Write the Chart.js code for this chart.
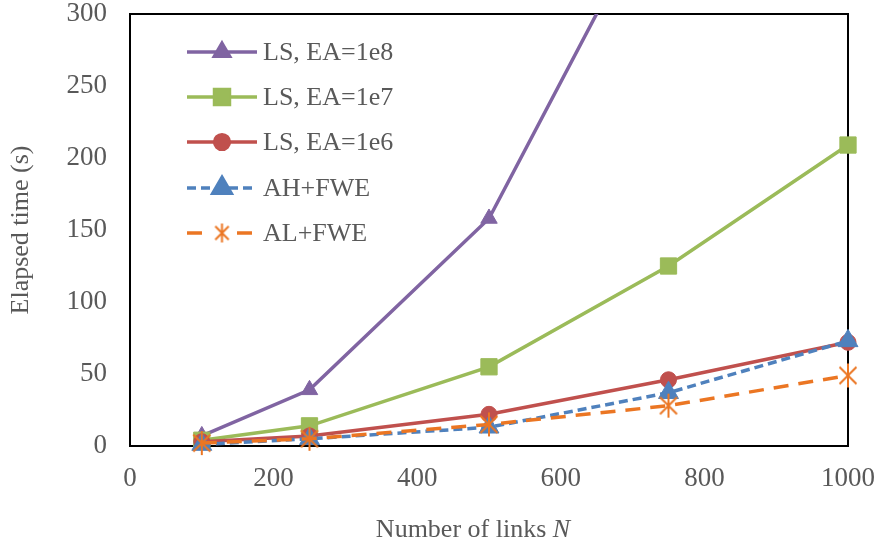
<!DOCTYPE html>
<html>
<head>
<meta charset="utf-8">
<script src="https://cdn.jsdelivr.net/npm/chart.js@4/dist/chart.umd.min.js"></script>
<style>
  html, body { margin: 0; padding: 0; background: #fff; }
  #wrap { width: 877px; height: 547px; position: relative; }
</style>
</head>
<body>
<div id="wrap"><canvas id="chart"></canvas></div>
<script>
// data
const linkCounts = [100, 250, 500, 750, 1000];
const lsEa1e8 = [7, 39, 158, 395, null];
const lsEa1e7 = [4, 14, 55, 125, 209];
const lsEa1e6 = [3, 7, 22, 46, 72];
const ahFwe = [1, 5, 13, 37, 73];
const alFwe = [2, 5, 15, 28, 49];

const seriesNames = ['LS, EA=1e8', 'LS, EA=1e7', 'LS, EA=1e6', 'AH+FWE', 'AL+FWE'];
const yTicks = [0, 50, 100, 150, 200, 250, 300];
const xTicks = [0, 200, 400, 600, 800, 1000];

const FONT = '"Liberation Serif", "Times New Roman", serif';
const GREY = '#595959';
const ORANGE = '#EB7623';
const TICK_SIZE = 27;
const LEGEND_SIZE = 26;
const TITLE_SIZE = 26;

// asterisk marker (X plus vertical stroke), like the office one
function makeStar(color, r) {
  const c = document.createElement('canvas');
  const s = Math.ceil(r * 2 + 4);
  c.width = s; c.height = s;
  const g = c.getContext('2d');
  g.strokeStyle = color;
  g.lineWidth = 2;
  const m = s / 2;
  const d = r * Math.SQRT1_2;
  g.beginPath();
  g.moveTo(m - d, m - d); g.lineTo(m + d, m + d);
  g.moveTo(m + d, m - d); g.lineTo(m - d, m + d);
  g.moveTo(m, m - r); g.lineTo(m, m + r);
  g.stroke();
  return c;
}
const starImg = makeStar(ORANGE, 12);
const starSmall = makeStar(ORANGE, 9.5);

function pts(ys) {
  return linkCounts.map((x, i) => ({ x: x, y: ys[i] }));
}

const datasets = [
  { label: seriesNames[0], data: pts(lsEa1e8), borderColor: '#8064A2', backgroundColor: '#8064A2',
    pointStyle: 'triangle', pointRadius: 9.5, order: 5, borderDash: [] },
  { label: seriesNames[1], data: pts(lsEa1e7), borderColor: '#9BBB59', backgroundColor: '#9BBB59',
    pointStyle: 'rect', pointRadius: 11.5, order: 4, borderDash: [], clip: false },
  { label: seriesNames[2], data: pts(lsEa1e6), borderColor: '#C0504D', backgroundColor: '#C0504D',
    pointStyle: 'circle', pointRadius: 8, order: 3, borderDash: [], clip: false },
  { label: seriesNames[3], data: pts(ahFwe), borderColor: '#4F81BD', backgroundColor: '#4F81BD',
    pointStyle: 'triangle', pointRadius: 11.5, order: 2, borderDash: [9, 5], clip: false },
  { label: seriesNames[4], data: pts(alFwe), borderColor: ORANGE, backgroundColor: ORANGE,
    pointStyle: starImg, pointRadius: 12, order: 1, borderDash: [15, 10], clip: false }
];
datasets.forEach(d => {
  d.borderWidth = 3.5;
  d.pointBorderWidth = 1;
  d.tension = 0;
  d.spanGaps = false;
});

// box round the plot, inner legend, x title with italic N
const box = {
  id: 'box',
  beforeDatasetsDraw(chart) {
    const ctx = chart.ctx;
    const a = chart.chartArea;
    ctx.save();
    ctx.strokeStyle = '#000';
    ctx.lineWidth = 2;
    ctx.strokeRect(a.left, a.top, a.right - a.left, a.bottom - a.top);
    ctx.restore();
  }
};

const decor = {
  id: 'decor',
  afterDraw(chart) {
    const ctx = chart.ctx;
    ctx.save();

    // legend
    const lx0 = 187, lx1 = 257, tx = 263;
    const rows = [52, 97, 142, 188, 233];
    ctx.font = LEGEND_SIZE + 'px ' + FONT;
    ctx.textBaseline = 'middle';
    ctx.textAlign = 'left';
    datasets.forEach((d, i) => {
      const y = rows[i];
      ctx.strokeStyle = d.borderColor;
      ctx.lineWidth = 3.5;
      ctx.setLineDash(d.borderDash);
      ctx.beginPath();
      ctx.moveTo(lx0, y); ctx.lineTo(lx1, y);
      ctx.stroke();
      ctx.setLineDash([]);
      const mx = (lx0 + lx1) / 2;
      if (typeof d.pointStyle === 'string') {
        Chart.helpers.drawPoint(ctx, {
          pointStyle: d.pointStyle, radius: d.pointRadius * 0.92, borderWidth: 1, rotation: 0
        }, mx, y);
        ctx.fillStyle = d.backgroundColor;
        ctx.fill();
      } else {
        ctx.fillStyle = '#fff';
        ctx.fillRect(mx - 12, y - 4, 24, 8);
        ctx.drawImage(starSmall, mx - starSmall.width / 2, y - starSmall.height / 2);
      }
      ctx.fillStyle = GREY;
      ctx.fillText(d.label, tx, y + 1);
    });

    // x axis title
    const t1 = 'Number of links ';
    const t2 = 'N';
    ctx.font = TITLE_SIZE + 'px ' + FONT;
    const w1 = ctx.measureText(t1).width;
    ctx.font = 'italic ' + TITLE_SIZE + 'px ' + FONT;
    const w2 = ctx.measureText(t2).width;
    const cx = 473;
    let x = cx - (w1 + w2) / 2;
    ctx.fillStyle = GREY;
    ctx.textBaseline = 'middle';
    ctx.font = TITLE_SIZE + 'px ' + FONT;
    ctx.fillText(t1, x, 530);
    ctx.font = 'italic ' + TITLE_SIZE + 'px ' + FONT;
    ctx.fillText(t2, x + w1, 530);
    ctx.restore();
  }
};

new Chart(document.getElementById('chart'), {
  type: 'line',
  data: { datasets: datasets },
  plugins: [box, decor],
  options: {
    responsive: true,
    maintainAspectRatio: false,
    animation: false,
    layout: { padding: { left: 0, right: 29, top: 14, bottom: 0 } },
    plugins: { legend: { display: false }, tooltip: { enabled: false } },
    scales: {
      x: {
        type: 'linear',
        min: 0, max: 1000,
        afterBuildTicks: s => { s.ticks = xTicks.map(v => ({ value: v })); },
        afterFit: s => { s.height = 101; s.paddingLeft = 0; s.paddingRight = 0; },
        grid: { display: false, drawTicks: false },
        border: { display: false },
        ticks: { color: GREY, padding: 17, callback: v => String(v), font: { family: FONT, size: TICK_SIZE } }
      },
      y: {
        min: 0, max: 300,
        afterBuildTicks: s => { s.ticks = yTicks.map(v => ({ value: v })); },
        afterFit: s => { s.width = 130; s.paddingTop = 0; s.paddingBottom = 0; },
        grid: { display: false, drawTicks: false },
        border: { display: false },
        ticks: { color: GREY, padding: 23, callback: v => String(v), font: { family: FONT, size: TICK_SIZE } },
        title: { display: true, text: 'Elapsed time (s)', color: GREY, padding: { top: 6, bottom: 0 },
          font: { family: FONT, size: TITLE_SIZE } }
      }
    }
  }
});
</script>
</body>
</html>
